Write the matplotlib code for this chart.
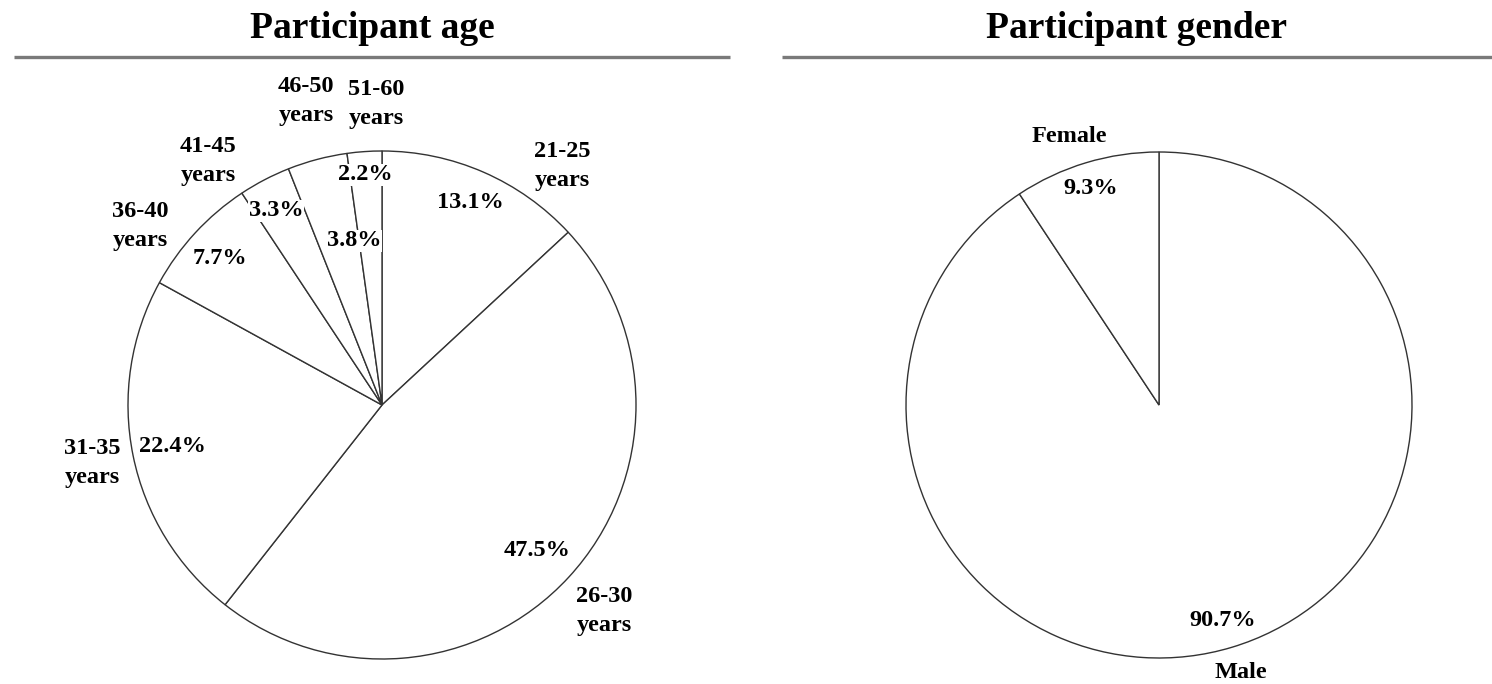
import matplotlib
matplotlib.use("Agg")
import matplotlib.pyplot as plt

# ---- data ----
age_labels = ["21-25\nyears", "26-30\nyears", "31-35\nyears", "36-40\nyears",
              "41-45\nyears", "46-50\nyears", "51-60\nyears"]
age_values = [13.1, 47.5, 22.4, 7.7, 3.3, 3.8, 2.2]
gender_labels = ["Female", "Male"]
gender_values = [9.3, 90.7]
titles = ["Participant age", "Participant gender"]

W, H = 1492, 684
def Y(y):
    return H - y

fig = plt.figure(figsize=(W / 100, H / 100), dpi=100)
ax = fig.add_axes([0, 0, 1, 1])

edge = dict(edgecolor="#333333", linewidth=1.0)
font = dict(family="Liberation Serif", weight="bold")
box = dict(facecolor="white", edgecolor="none", pad=0.5)

# age pie (clockwise from 12 o'clock)
ax.pie(age_values, startangle=90, counterclock=False, center=(382, Y(405)),
       radius=254, colors=["white"] * len(age_values), wedgeprops=edge)
# gender pie: Female sits left of 12 o'clock, so draw clockwise with Male first
ax.pie(gender_values[::-1], startangle=90, counterclock=False, center=(1159, Y(405)),
       radius=253, colors=["white"] * 2, wedgeprops=edge)

# label positions (pixel coords of text centres)
age_name_pos = [(562, 166), (604, 611), (92, 463), (140, 226), (208, 161), (306, 101), (376, 104)]
age_pct_pos = [(470, 202), (537, 551), (172, 447), (220, 258), (276, 211), (354, 241), (365, 175)]
for lab, v, (nx, ny), (px, py) in zip(age_labels, age_values, age_name_pos, age_pct_pos):
    ax.text(nx, Y(ny), lab, ha="center", va="center", fontsize=17.5,
            linespacing=1.5, **font)
    ax.text(px, Y(py), f"{v:.1f}%", ha="center", va="center", fontsize=17.5,
            bbox=box, **font)

gender_name_pos = [(1069, 137), (1241, 672)]
gender_pct_pos = [(1091, 188), (1223, 621)]
for lab, v, (nx, ny), (px, py) in zip(gender_labels, gender_values, gender_name_pos, gender_pct_pos):
    ax.text(nx, Y(ny), lab, ha="center", va="center", fontsize=17.5, **font)
    ax.text(px, Y(py), f"{v:.1f}%", ha="center", va="center", fontsize=17.5,
            bbox=box, **font)

# titles and rules
title_pos = [(372, 29), (1137, 29)]
rule_x = [(14, 730), (782, 1492)]
for t, (tx, ty), (x0, x1) in zip(titles, title_pos, rule_x):
    ax.text(tx, Y(ty), t, ha="center", va="center", fontsize=27, **font)
    ax.plot([x0, x1], [Y(57), Y(57)], color="#7a7a7a", lw=2.4, solid_capstyle="butt")

ax.set_xlim(0, W)
ax.set_ylim(0, H)
ax.set_aspect("auto")
ax.axis("off")

fig.savefig("out.png", dpi=100, facecolor="white")
